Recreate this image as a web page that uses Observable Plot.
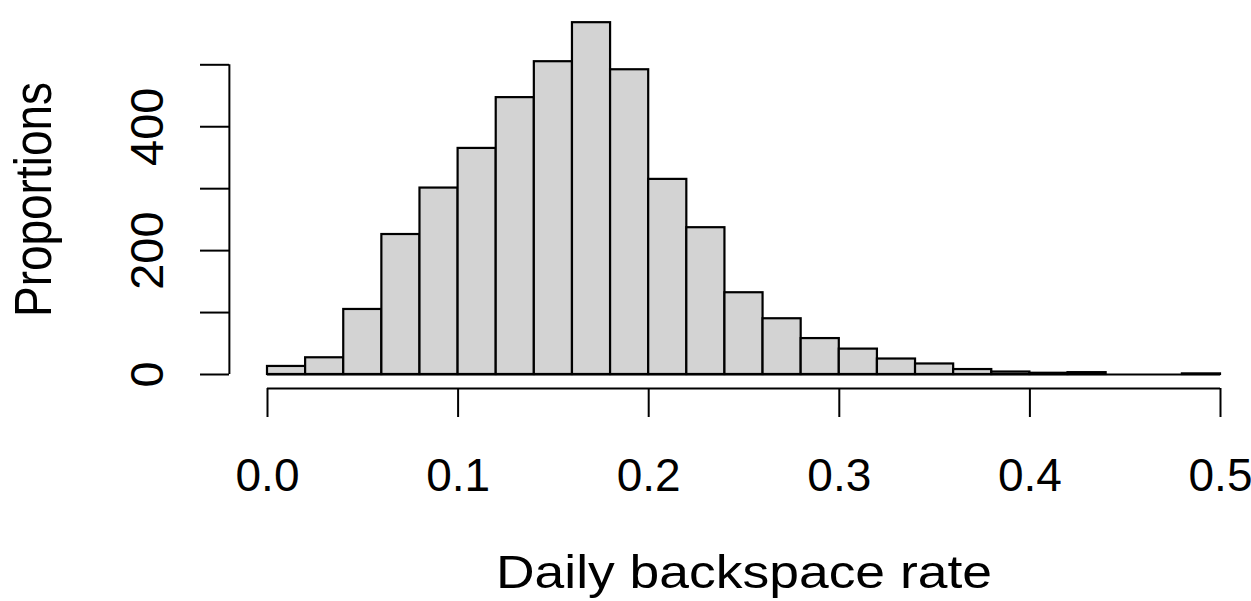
<!DOCTYPE html>
<html><head><meta charset="utf-8">
<script src="https://cdn.jsdelivr.net/npm/d3@7"></script>
<script src="https://cdn.jsdelivr.net/npm/@observablehq/plot@0.6"></script>
<style>html,body{margin:0;padding:0;background:#fff;} svg{display:block;}</style>
</head><body><div id="chart"></div>
<script>
const binStart = [0.00,0.02,0.04,0.06,0.08,0.10,0.12,0.14,0.16,0.18,0.20,0.22,0.24,0.26,0.28,0.30,0.32,0.34,0.36,0.38,0.40,0.42,0.44,0.46,0.48];
const binEnd   = [0.02,0.04,0.06,0.08,0.10,0.12,0.14,0.16,0.18,0.20,0.22,0.24,0.26,0.28,0.30,0.32,0.34,0.36,0.38,0.40,0.42,0.44,0.46,0.48,0.50];
const counts   = [13,27,105,226,301,365,447,505,568,492,315,237,132,90,58,41,25,17,8,4,2,3,0,0,1];
const xTicks = [0,0.1,0.2,0.3,0.4,0.5];
const xTickLabels = ["0.0","0.1","0.2","0.3","0.4","0.5"];
const yTicks = [0,100,200,300,400,500];
const yLabelValues = [0,200,400];
const yLabelTexts = ["0","200","400"];
const xTitle = "Daily backspace rate";
const yTitle = "Proportions";

const bins = counts.map((c,i)=>({x1:binStart[i], x2:binEnd[i], y:c}));
const font = "'Liberation Sans', Arial, Helvetica, sans-serif";
const axisXPos = -0.04 * (binEnd[binEnd.length-1] - binStart[0]);
const axisYPos = -0.04 * d3.max(counts);

const chart = Plot.plot({
  width: 1251, height: 601,
  marginLeft: 229, marginRight: 0, marginTop: 10, marginBottom: 213,
  x: {domain: [0, 0.5], range: [267, 1220], label: null},
  y: {domain: [0, 500], range: [374, 64.3], label: null},
  style: {fontFamily: font, background: "white", color: "black"},
  marks: [
    Plot.rectY(bins, {x1: "x1", x2: "x2", y: "y", fill: "#d3d3d3", stroke: "black", strokeWidth: 2.2}),
    Plot.ruleY([0], {x1: binStart[0], x2: binEnd[binEnd.length-1], stroke: "black", strokeWidth: 2.2}),
    Plot.ruleX([axisXPos], {y1: yTicks[0], y2: yTicks[yTicks.length-1], stroke: "black", strokeWidth: 2}),
    Plot.ruleY([axisYPos], {x1: xTicks[0], x2: xTicks[xTicks.length-1], stroke: "black", strokeWidth: 2}),
    Plot.axisY({ticks: yTicks, tickSize: 29, tickFormat: () => "", strokeWidth: 2, label: null}),
    Plot.axisX({ticks: xTicks, tickSize: 29, tickPadding: 41, tickFormat: (d) => xTickLabels[xTicks.indexOf(d)], fontSize: 46, strokeWidth: 2, label: null}),
    Plot.text(yLabelValues, {x: axisXPos, y: d => d, text: (d, i) => yLabelTexts[i], rotate: -90, dx: -66, lineAnchor: "bottom", textAnchor: "middle", fontSize: 47}),
    Plot.text([yTitle], {frameAnchor: "left", rotate: -90, dx: -179, lineAnchor: "bottom", textAnchor: "middle", fontSize: 51}),
    Plot.text([xTitle], {x: 0.25, frameAnchor: "bottom", dy: 199, lineAnchor: "bottom", textAnchor: "middle", fontSize: 47})
  ]
});
d3.select(chart).selectAll("text").each(function() {
  const t = this.textContent;
  if (t === xTitle) { this.setAttribute("textLength", 496); this.setAttribute("lengthAdjust", "spacingAndGlyphs"); }
  if (t === yTitle) { this.setAttribute("textLength", 235); this.setAttribute("lengthAdjust", "spacingAndGlyphs"); }
});
document.getElementById("chart").appendChild(chart);
</script>
</body></html>
